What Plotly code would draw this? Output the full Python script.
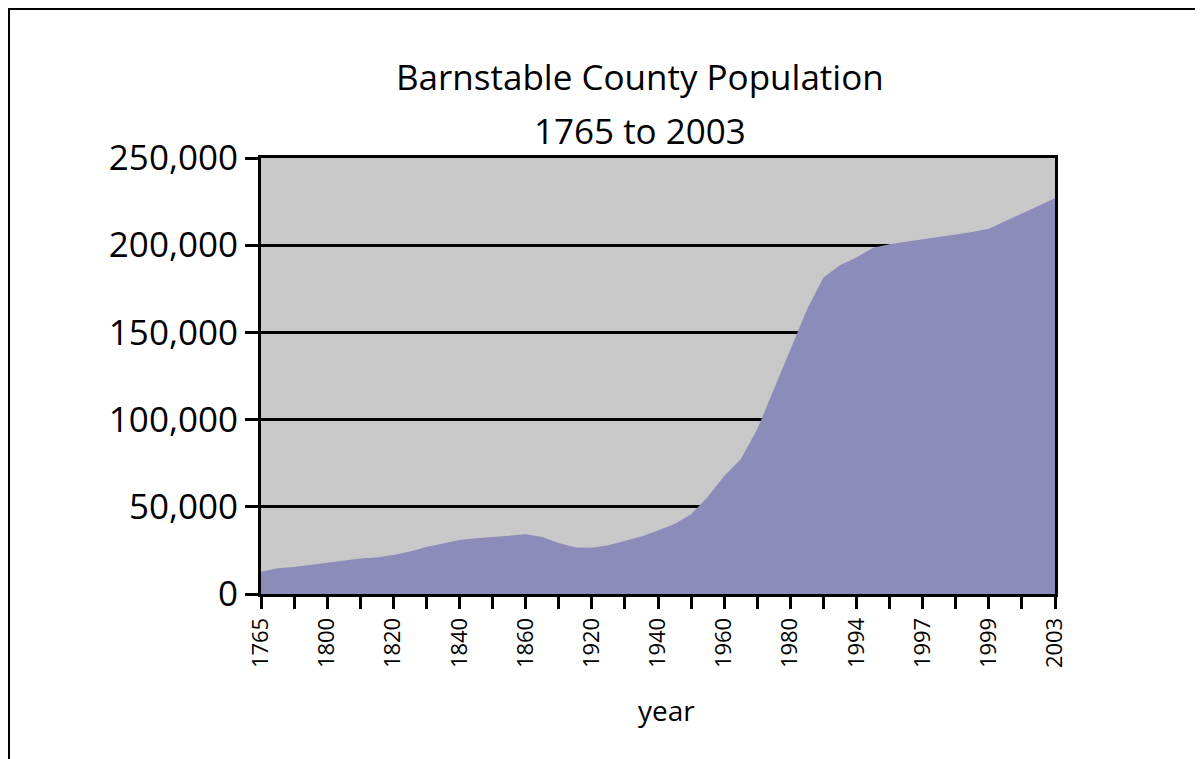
import plotly.graph_objects as go

population = [
    12800, 14700, 15450, 16700, 18100, 19300, 20400, 21000, 22300, 24300,
    26900, 29000, 31000, 31900, 32700, 33500, 34200, 32700, 29300, 26600,
    26500, 28000, 30400, 33000, 36400, 40100, 45700, 55600, 67700, 77200,
    94500, 116900, 140100, 163000, 181500, 188500, 193000, 198500, 200500, 202000,
    203400, 204700, 206000, 207600, 209500, 213800, 218100, 222400, 226900,
]

# labels for every other tick mark
tick_labels = ['1765', '1800', '1820', '1840', '1860', '1920', '1940',
               '1960', '1980', '1994', '1997', '1999', '2003']

y_ticks = [0, 50000, 100000, 150000, 200000, 250000]

font_family = "Open Sans, Noto Sans, DejaVu Sans, sans-serif"

idx = list(range(len(population)))
tick_pos = idx[::2]
tick_text = []
for n, p in enumerate(tick_pos):
    tick_text.append(tick_labels[n // 2] if n % 2 == 0 else '')

fig = go.Figure()

fig.add_trace(go.Scatter(
    x=idx,
    y=population,
    mode='lines',
    fill='tozeroy',
    fillcolor='#8b8cb9',
    line=dict(width=0, color='#8b8cb9'),
    hoverinfo='y',
    showlegend=False,
))

fig.update_layout(
    width=1203,
    height=759,
    margin=dict(l=253, r=156, t=150, b=173),
    plot_bgcolor='#c8c8c8',
    paper_bgcolor='white',
    font=dict(family=font_family, color='black'),
    annotations=[
        dict(text='Barnstable County Population', x=0.477, y=1.186,
             xref='paper', yref='paper', showarrow=False,
             xanchor='center', yanchor='middle',
             font=dict(size=35)),
        dict(text='1765 to 2003', x=0.477, y=1.062,
             xref='paper', yref='paper', showarrow=False,
             xanchor='center', yanchor='middle',
             font=dict(size=35)),
        dict(text='year', x=0.511, y=-0.266,
             xref='paper', yref='paper', showarrow=False,
             xanchor='center', yanchor='middle',
             font=dict(size=28)),
    ],
    shapes=[
        # outer frame of the picture
        dict(type='rect', xref='paper', yref='paper',
             x0=-0.3174, x1=1.3, y0=-0.45, y1=1.3417,
             line=dict(color='black', width=2), layer='below'),
    ],
)

fig.update_xaxes(
    range=[0, len(population) - 1],
    tickmode='array',
    tickvals=tick_pos,
    ticktext=tick_text,
    tickangle=-90,
    ticks='outside',
    ticklen=12,
    tickwidth=3,
    tickcolor='black',
    tickfont=dict(size=22),
    showgrid=False,
    showline=True,
    linecolor='black',
    linewidth=3,
    mirror=True,
    zeroline=False,
)

fig.update_yaxes(
    range=[0, 250000],
    tickmode='array',
    tickvals=y_ticks,
    tickformat=',',
    ticks='outside',
    ticklen=13,
    tickwidth=3,
    tickcolor='black',
    tickfont=dict(size=35),
    showgrid=True,
    gridcolor='black',
    gridwidth=3,
    showline=True,
    linecolor='black',
    linewidth=3,
    mirror=True,
    zeroline=False,
)

fig.write_html("out.html")
